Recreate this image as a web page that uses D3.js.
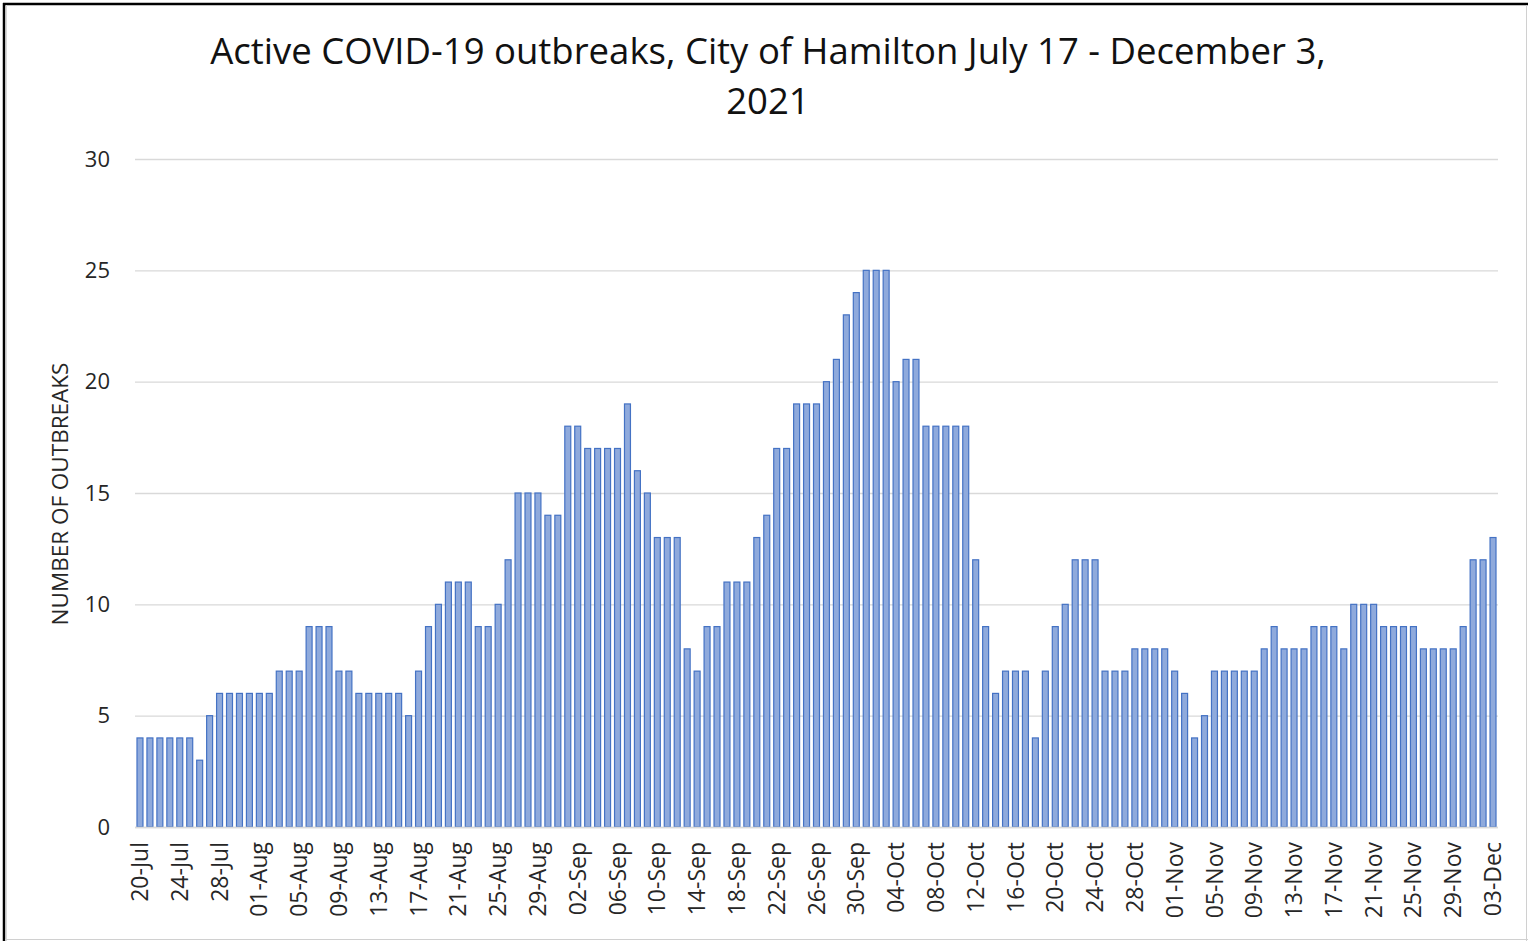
<!DOCTYPE html>
<html><head><meta charset="utf-8">
<script src="https://cdn.jsdelivr.net/npm/d3@7"></script>
<style>html,body{margin:0;padding:0;background:#fff;}svg{display:block;}</style>
</head><body>
<svg id="chart" width="1528" height="941"></svg>
<script>
const titleLines = ["Active COVID-19 outbreaks, City of Hamilton July 17 - December 3,", "2021"];
const yAxisTitle = "NUMBER OF OUTBREAKS";
const startDate = "2021-07-20";
const endDate = "2021-12-03";
const yTicks = [0, 5, 10, 15, 20, 25, 30];
const xTickLabels = ["20-Jul","24-Jul","28-Jul","01-Aug","05-Aug","09-Aug","13-Aug","17-Aug","21-Aug","25-Aug","29-Aug","02-Sep","06-Sep","10-Sep","14-Sep","18-Sep","22-Sep","26-Sep","30-Sep","04-Oct","08-Oct","12-Oct","16-Oct","20-Oct","24-Oct","28-Oct","01-Nov","05-Nov","09-Nov","13-Nov","17-Nov","21-Nov","25-Nov","29-Nov","03-Dec"];
// daily values Jul 20 .. Dec 3
const julValues = [4,4,4,4,4,4,3,5,6,6,6,6];
const augValues = [6,6,7,7,7,9,9,9,7,7,6,6,6,6,6,5,7,9,10,11,11,11,9,9,10,12,15,15,15,14,14];
const sepValues = [18,18,17,17,17,17,19,16,15,13,13,13,8,7,9,9,11,11,11,13,14,17,17,19,19,19,20,21,23,24];
const octValues = [25,25,25,20,21,21,18,18,18,18,18,12,9,6,7,7,7,4,7,9,10,12,12,12,7,7,7,8,8,8,8];
const novValues = [7,6,4,5,7,7,7,7,7,8,9,8,8,8,9,9,9,8,10,10,10,9,9,9,9,8,8,8,8,9];
const decValues = [12,12,13];

const values = [].concat(julValues, augValues, sepValues, octValues, novValues, decValues);
const parse = d3.timeParse("%Y-%m-%d");
const fmt = d3.timeFormat("%d-%b");
const dates = d3.timeDay.range(parse(startDate), d3.timeDay.offset(parse(endDate), 1));
const data = dates.map((d, i) => ({date: d, label: fmt(d), value: values[i]}));

const svg = d3.select("#chart");
const W = 1528, H = 941;
const plot = {left: 135, right: 1498, top: 159, bottom: 827};
const FONT = "'Open Sans', sans-serif";

// frame
svg.append("rect").attr("x", 0).attr("y", 0).attr("width", W).attr("height", H).attr("fill", "#fff");
svg.append("line").attr("x1", 3).attr("x2", W).attr("y1", 4).attr("y2", 4).attr("stroke", "#000").attr("stroke-width", 2.5);
svg.append("line").attr("x1", 4).attr("x2", 4).attr("y1", 3).attr("y2", H).attr("stroke", "#000").attr("stroke-width", 2.5);
svg.append("line").attr("x1", 6.5).attr("x2", 6.5).attr("y1", 5).attr("y2", H).attr("stroke", "#d9d9d9").attr("stroke-width", 1);
svg.append("line").attr("x1", 5).attr("x2", W).attr("y1", 939.5).attr("y2", 939.5).attr("stroke", "#d0d0d0").attr("stroke-width", 1);
svg.append("line").attr("x1", 1526.5).attr("x2", 1526.5).attr("y1", 5).attr("y2", H).attr("stroke", "#d0d0d0").attr("stroke-width", 1);

const x = d3.scaleBand().domain(data.map(d => d.label)).range([plot.left, plot.right]).paddingInner(0.3).paddingOuter(0.15);
const y = d3.scaleLinear().domain([0, 30]).range([plot.bottom, plot.top]);

// gridlines + y tick labels
const yAxis = d3.axisLeft(y).tickValues(yTicks).tickSize(-(plot.right - plot.left)).tickPadding(25).tickFormat(d3.format("d"));
const gy = svg.append("g").attr("transform", `translate(${plot.left},0)`).call(yAxis);
gy.select(".domain").remove();
gy.selectAll(".tick line").attr("stroke", "#d9d9d9").attr("stroke-width", 1.3);
gy.selectAll(".tick text").attr("font-family", FONT).attr("font-size", 22).attr("fill", "#262626");

// bars
svg.append("g").selectAll("rect").data(data).join("rect")
  .attr("x", d => x(d.label) + 0.5)
  .attr("y", d => y(d.value))
  .attr("width", x.bandwidth() - 1)
  .attr("height", d => y(0) - y(d.value))
  .attr("fill", "#8faadc")
  .attr("stroke", "#4472c4")
  .attr("stroke-width", 1.2);

// baseline
svg.append("line").attr("x1", plot.left).attr("x2", plot.right).attr("y1", y(0) + 0.5).attr("y2", y(0) + 0.5).attr("stroke", "#d9d9d9").attr("stroke-width", 1.3);

// x axis
const xAxis = d3.axisBottom(x).tickValues(xTickLabels).tickSize(0).tickPadding(0);
const gx = svg.append("g").attr("transform", `translate(0,${plot.bottom})`).call(xAxis);
gx.select(".domain").remove();
gx.selectAll(".tick text")
  .attr("font-family", FONT).attr("font-size", 23).attr("fill", "#262626")
  .attr("text-anchor", "end")
  .attr("transform", "translate(0,15) rotate(-90)")
  .attr("x", 0).attr("y", 0).attr("dy", "0.35em");

// y title
svg.append("text")
  .attr("transform", `translate(68,${(plot.top + plot.bottom) / 2 + 1}) rotate(-90)`)
  .attr("text-anchor", "middle")
  .attr("font-family", FONT).attr("font-size", 22.5).attr("fill", "#262626")
  .text(yAxisTitle);

// title
svg.append("g").selectAll("text").data(titleLines).join("text")
  .attr("x", 768).attr("y", (d, i) => 64 + i * 50)
  .attr("text-anchor", "middle")
  .attr("font-family", FONT).attr("font-size", 36.5).attr("fill", "#111")
  .text(d => d);
</script>
</body></html>
